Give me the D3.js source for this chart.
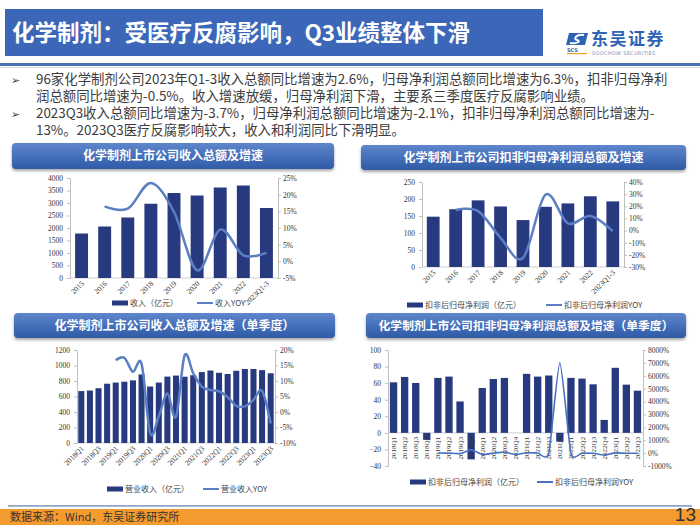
<!DOCTYPE html>
<html><head><meta charset="utf-8">
<script src="https://cdn.jsdelivr.net/npm/d3@7"></script>
<style>
body{margin:0;background:#fff;}
svg{display:block;}
</style></head><body>
<svg id="c" width="700" height="525"></svg>
<script>
// ---------- data ----------
const titleText = "化学制剂：受医疗反腐影响，Q3业绩整体下滑";
const bulletLines = [
  {bullet:true,  text:"96家化学制剂公司2023年Q1-3收入总额同比增速为2.6%，归母净利润总额同比增速为6.3%，扣非归母净利"},
  {bullet:false, text:"润总额同比增速为-0.5%。收入增速放缓，归母净利润下滑，主要系三季度医疗反腐影响业绩。"},
  {bullet:true,  text:"2023Q3收入总额同比增速为-3.7%，归母净利润总额同比增速为-2.1%，扣非归母净利润总额同比增速为-"},
  {bullet:false, text:"13%。2023Q3医疗反腐影响较大，收入和利润同比下滑明显。"}
];
const panelTitles = [
  "化学制剂上市公司收入总额及增速",
  "化学制剂上市公司扣非归母净利润总额及增速",
  "化学制剂上市公司收入总额及增速（单季度）",
  "化学制剂上市公司扣非归母净利润总额及增速（单季度）"
];
const yearCats = ["2015","2016","2017","2018","2019","2020","2021","2022","2023Q1-3"];
const revenueAnnual = [1780, 2060, 2420, 2970, 3400, 3300, 3620, 3700, 2800];
const revenueAnnualYoy = [null, 16.5, 15.8, 23.5, 14.8, -2.7, 9.5, 1.8, 2.6];
const profitAnnual = [148, 170, 196, 178, 138, 177, 187, 208, 193];
const profitAnnualYoy = [null, 17, 16, -6, -22.5, 29.5, 6, 12, -0.5];

const quarterCats = ["2018Q1","2018Q2","2018Q3","2018Q4","2019Q1","2019Q2","2019Q3","2019Q4",
  "2020Q1","2020Q2","2020Q3","2020Q4","2021Q1","2021Q2","2021Q3","2021Q4",
  "2022Q1","2022Q2","2022Q3","2022Q4","2023Q1","2023Q2","2023Q3"];
const revenueQuarter = [670, 677, 707, 765, 780, 791, 808, 885, 729, 780, 857, 870, 855, 875, 915, 935, 906, 891, 932, 955, 955, 940, 900];
const revenueQuarterYoy = [null, null, null, null, 16.7, 17.5, 13.0, 15.5, -6.8, -1.4, 6.0, -1.6, 18.2, 12.5, 8.2, 7.1, 6.7, 4.8, 2.0, 1.8, 3.9, 6.8, -3.7];
const profitQuarter = [61, 67.5, 60.2, -8.5, 66.3, 67.9, 37.9, -32, 54.1, 65, 66.3, 0, 71.2, 67.9, 69.2, -10.5, 66.3, 65.5, 58.6, 15.6, 78.5, 58.2, 50.9];
const profitQuarterYoy = [null, null, null, null, 8, 1, -37, 250, -100, -4, 74, -100, 30, 4, 5, 7000, -6, -4, -15, -150, 18, -11, -13];

const ticksRevA = [0,500,1000,1500,2000,2500,3000,3500,4000];
const ticksRevYoyA = [-5,0,5,10,15,20,25];
const ticksProfitB = [0,50,100,150,200,250];
const ticksProfitYoyB = [-30,-20,-10,0,10,20,30,40];
const ticksRevC = [0,200,400,600,800,1000,1200];
const ticksRevYoyC = [-10,-5,0,5,10,15,20];
const ticksProfitD = [-40,-20,0,20,40,60,80,100];
const ticksProfitYoyD = [-1000,0,1000,2000,3000,4000,5000,6000,7000,8000];

const legendA = ["收入（亿元）","收入YOY"];
const legendB = ["扣非后归母净利润（亿元）","扣非后归母净利润YOY"];
const legendC = ["营业收入（亿元）","营业收入YOY"];
const legendD = ["扣非后归母净利润（亿元）","扣非后归母净利润YOY"];
const sourceText = "数据来源：Wind，东吴证券研究所";
const pageNo = "13";

// ---------- drawing ----------
const CJK = "'Noto Sans CJK SC','Noto Sans',sans-serif";
const SERIF = "'Liberation Serif','DejaVu Serif',serif";
const BAR = "#273a80";
const LINE = "#5b7fc2";

const svg = d3.select("#c");
svg.append("rect").attr("width",700).attr("height",525).attr("fill","#fff");
const defs = svg.append("defs");
const grad = defs.append("linearGradient").attr("id","hdr").attr("x1",0).attr("y1",0).attr("x2",0).attr("y2",1);
grad.append("stop").attr("offset","0%").attr("stop-color","#5e86cc");
grad.append("stop").attr("offset","100%").attr("stop-color","#2f5aa7");
const filt = defs.append("filter").attr("id","sh").attr("x","-5%").attr("y","-30%").attr("width","110%").attr("height","170%");
filt.append("feDropShadow").attr("dx",0).attr("dy",2).attr("stdDeviation",1.6).attr("flood-color","#000").attr("flood-opacity",0.35);

// title bar
svg.append("rect").attr("x",5).attr("y",9).attr("width",538).attr("height",47).attr("fill","#3c67b8");
svg.append("text").attr("x",12).attr("y",41).attr("fill","#fff").attr("font-family",CJK)
  .attr("font-weight",700).attr("font-size",22.5).text(titleText);

// logo
const logo = svg.append("g");
logo.append("path").attr("d","M569,33 L588,33 L585,45 L566,45 Z").attr("fill","#2f63b5");
logo.append("path").attr("d","M584,35 C576,34 573,39 577,40 C581,41 578,44 570,43").attr("fill","none").attr("stroke","#fff").attr("stroke-width",2);
logo.append("text").attr("x",567).attr("y",52).attr("font-family","'DejaVu Sans',sans-serif").attr("font-weight",700)
  .attr("font-size",5).attr("fill","#2f63b5").text("SCS");
logo.append("rect").attr("x",567).attr("y",53).attr("width",20).attr("height",1.2).attr("fill","#f0a030");
logo.append("text").attr("x",591).attr("y",45).attr("font-family",CJK).attr("font-weight",700)
  .attr("font-size",17).attr("fill","#2f63b5").attr("letter-spacing",1.5).text("东吴证券");
logo.append("text").attr("x",592).attr("y",55).attr("font-family","'DejaVu Sans',sans-serif")
  .attr("font-size",5).attr("fill","#7d93b8").attr("letter-spacing",0.3).text("SOOCHOW SECURITIES");

// divider line
svg.append("rect").attr("x",0).attr("y",63).attr("width",700).attr("height",3).attr("fill","#4a72b4");
svg.append("rect").attr("x",0).attr("y",67).attr("width",700).attr("height",1).attr("fill","#d5dbe5");

// bullets
bulletLines.forEach((l,i) => {
  const y = 84 + i*17;
  if (l.bullet) svg.append("text").attr("x",11).attr("y",y).attr("font-family","'DejaVu Sans',sans-serif")
      .attr("font-size",11).attr("fill","#404040").text("➢");
  svg.append("text").attr("x",36).attr("y",y).attr("font-family",CJK).attr("font-size",13.4)
    .attr("fill","#3c3c3c").text(l.text);
});

// panel headers
function header(x, y, w, h, txt, fs) {
  svg.append("rect").attr("x",x).attr("y",y).attr("width",w).attr("height",h).attr("rx",4)
    .attr("fill","url(#hdr)").attr("filter","url(#sh)");
  svg.append("text").attr("x",x+w/2).attr("y",y+h/2+4.3).attr("text-anchor","middle")
    .attr("font-family",CJK).attr("font-weight",700).attr("font-size",fs).attr("fill","#fff").text(txt);
}
header(12,143,322,26,panelTitles[0],12);
header(361,145,325,25,panelTitles[1],12);
header(14,313,321,25,panelTitles[2],12);
header(366,313,320,25,panelTitles[3],11.8);

function styleAxis(a, fs) {
  a.attr("font-family",SERIF).attr("font-size",fs);
  a.select(".domain").attr("stroke","#bfbfbf");
  a.selectAll(".tick line").attr("stroke","#bfbfbf");
  a.selectAll(".tick text").attr("fill","#333");
}

function combo(o) {
  const g = svg.append("g");
  const x = d3.scaleBand().domain(o.cats).range([o.x0,o.x1]).paddingInner(o.pad).paddingOuter(o.pad/2);
  const yL = d3.scaleLinear().domain(o.lDom).range([o.yB,o.yT]);
  const yR = d3.scaleLinear().domain(o.rDom).range([o.yB,o.yT]);
  const la = g.append("g").attr("transform",`translate(${o.x0},0)`)
    .call(d3.axisLeft(yL).tickValues(o.lTicks).tickSize(3).tickPadding(4).tickSizeOuter(0).tickFormat(d3.format("d")));
  styleAxis(la, o.fs);
  const ra = g.append("g").attr("transform",`translate(${o.x1},0)`)
    .call(d3.axisRight(yR).tickValues(o.rTicks).tickSize(3).tickPadding(2).tickSizeOuter(0).tickFormat(d => d + "%"));
  styleAxis(ra, o.fs);
  g.append("line").attr("x1",o.x0).attr("x2",o.x1).attr("y1",yL(0)).attr("y2",yL(0)).attr("stroke","#cfcfcf");
  g.selectAll("rect.bar").data(o.bars).join("rect").attr("class","bar")
    .attr("x",(d,i)=>x(o.cats[i])).attr("width",x.bandwidth())
    .attr("y",d=>yL(Math.max(0,d))).attr("height",d=>Math.abs(yL(d)-yL(0)))
    .attr("fill",BAR);
  const cx = c => x(c) + x.bandwidth()/2;
  if (o.vertical) {
    g.selectAll("text.xl").data(o.cats).join("text").attr("class","xl")
      .attr("transform",c=>`translate(${cx(c)+2.5},${yL(0)+4}) rotate(-90)`)
      .attr("text-anchor","end").attr("font-family",SERIF).attr("font-size",o.xfs).attr("fill","#333").text(c=>c);
  } else {
    g.selectAll("text.xl").data(o.cats.filter((c,i)=> i % o.every === 0)).join("text").attr("class","xl")
      .attr("transform",c=>`translate(${cx(c)+3},${o.yB+6}) rotate(-45)`)
      .attr("text-anchor","end").attr("font-family",SERIF).attr("font-size",o.xfs).attr("fill","#333").text(c=>c);
  }
  const line = d3.line().defined(d=>d!=null).x((d,i)=>cx(o.cats[i])).y(d=>yR(d)).curve(o.curve);
  g.append("path").datum(o.line).attr("d",line).attr("fill","none").attr("stroke",o.lineColor)
    .attr("stroke-width",o.lw).attr("stroke-linejoin","round");
  const L = o.legend;
  g.append("rect").attr("x",L.bx).attr("y",L.y-2.5).attr("width",16).attr("height",5).attr("fill",BAR);
  g.append("text").attr("x",L.bx+18).attr("y",L.y+3).attr("font-family",CJK).attr("font-size",8).attr("fill","#444").text(o.names[0]);
  g.append("line").attr("x1",L.lx).attr("x2",L.lx+16).attr("y1",L.y).attr("y2",L.y).attr("stroke",o.lineColor).attr("stroke-width",2);
  g.append("text").attr("x",L.lx+18).attr("y",L.y+3).attr("font-family",CJK).attr("font-size",8).attr("fill","#444").text(o.names[1]);
}

const smooth = d3.curveCatmullRom.alpha(0);
combo({cats:yearCats, bars:revenueAnnual, line:revenueAnnualYoy, x0:70, x1:278, yT:178, yB:278,
  lDom:[0,4000], rDom:[-5,25], lTicks:ticksRevA, rTicks:ticksRevYoyA, pad:0.44, fs:7.5, xfs:7.5, every:1,
  curve:smooth, lineColor:LINE, lw:2.5, names:legendA, legend:{y:303, bx:112, lx:197}});
combo({cats:yearCats, bars:profitAnnual, line:profitAnnualYoy, x0:422, x1:624, yT:182, yB:267,
  lDom:[0,250], rDom:[-30,40], lTicks:ticksProfitB, rTicks:ticksProfitYoyB, pad:0.43, fs:7.5, xfs:7.5, every:1,
  curve:smooth, lineColor:LINE, lw:2.5, names:legendB, legend:{y:305, bx:407, lx:546}});
combo({cats:quarterCats, bars:revenueQuarter, line:revenueQuarterYoy, x0:77, x1:275, yT:350, yB:443,
  lDom:[0,1200], rDom:[-10,20], lTicks:ticksRevC, rTicks:ticksRevYoyC, pad:0.3, fs:7.5, xfs:7.5, every:2,
  curve:smooth, lineColor:LINE, lw:2.5, names:legendC, legend:{y:489, bx:107, lx:203}});
combo({cats:quarterCats, bars:profitQuarter, line:profitQuarterYoy, x0:388, x1:643, yT:350, yB:466,
  lDom:[-40,100], rDom:[-1000,8000], lTicks:ticksProfitD, rTicks:ticksProfitYoyD, pad:0.34, fs:7.5, xfs:7, vertical:true,
  curve:d3.curveCardinal.tension(0.4), lineColor:"#4a72c2", lw:1.6, names:legendD, legend:{y:482, bx:410, lx:537}});

// footer
svg.append("rect").attr("x",8).attr("y",505).attr("width",684).attr("height",1.8).attr("fill","#93a6c8");
svg.append("rect").attr("x",0).attr("y",509).attr("width",700).attr("height",16).attr("fill","#f39b2f");
svg.append("text").attr("x",10).attr("y",521).attr("font-family",CJK).attr("font-size",11).attr("fill","#333").text(sourceText);
svg.append("text").attr("x",696).attr("y",521).attr("text-anchor","end").attr("font-family","'Liberation Sans',Arial,sans-serif")
  .attr("font-size",19).attr("fill","#333").text(pageNo);
</script>
</body></html>
